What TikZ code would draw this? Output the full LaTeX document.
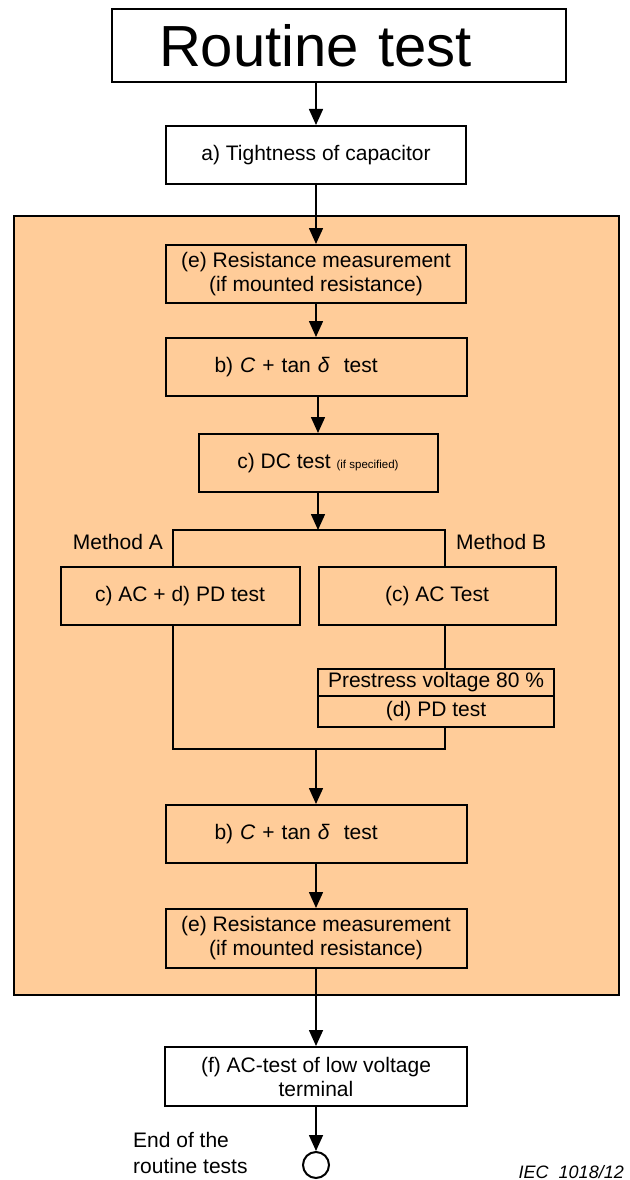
\documentclass[tikz,border=0pt]{standalone}
\usepackage{fontspec}
\setmainfont{Liberation Sans}
\usetikzlibrary{positioning,arrows.meta}
\definecolor{peach}{HTML}{FFCC99}
\tikzstyle{testbox} = [draw, line width=2pt, minimum height=58pt, inner sep=0pt, align=center]
\tikzstyle{flow} = [line width=1.6pt, -{Triangle[length=16pt,width=14pt]}]
\tikzstyle{wire} = [line width=2pt]
\tikzstyle{lbl} = [inner sep=0pt]

\begin{document}
\begin{tikzpicture}[
      x=1pt,
      y=-1pt,
      font=\fontsize{21}{24}\selectfont]

  \useasboundingbox (0,0) rectangle (629,1180);
  % shaded area of the high voltage tests
  \draw[wire, fill=peach] (14,216) rectangle (619,995);

  \node[testbox, minimum height=73pt, text width=454pt, align=left,
        font=\fontsize{58}{60}\selectfont] (title) at (339,45.5) {\hspace*{47pt}Routine test};
  \node[testbox, fill=white, minimum width=300pt] (tight) at (316,155) {a) Tightness of capacitor};
  \node[testbox, minimum width=300pt] (res1) at (316,274) {(e) Resistance measurement\\(if mounted resistance)};
  \node[testbox, text width=301pt, align=left] (ctan1) at (316,367) {\hspace*{49pt}b) \textit{C} + tan \textit{δ}\ \ test};
  \node[testbox, minimum width=239pt] (dc) at (318,463) {c) DC test {\fontsize{11.5}{12}\selectfont (if specified)}};

  \node[testbox, minimum width=239pt] (acpd) at (180,596) {c) AC + d) PD test};
  \node[testbox, minimum width=237pt] (ac) at (437,596) {(c) AC Test};
  \node[testbox, minimum width=236pt, minimum height=27pt] (prestress) at (436,682.5) {Prestress voltage 80 \%};
  \node[testbox, minimum width=236pt, minimum height=31pt] (pd) at (436,711.5) {(d) PD test};

  \node[testbox, text width=301pt, align=left] (ctan2) at (316,834) {\hspace*{49pt}b) \textit{C} + tan \textit{δ}\ \ test};
  \node[testbox, minimum width=301pt, minimum height=59pt] (res2) at (316,938.5) {(e) Resistance measurement\\(if mounted resistance)};
  \node[testbox, fill=white, minimum width=301.5pt, minimum height=59pt] (actest) at (316,1076.5) {(f) AC-test of low voltage\\terminal};
  \node[circle, draw, line width=2pt, minimum size=26pt, inner sep=0pt] (finish) at (316,1165) {};

  \coordinate (brA) at (173,530);
  \coordinate (brB) at (445,530);
  \coordinate (merge) at (316,749);

  \node[lbl, anchor=east] (methA) at (163,542) {Method A};
  \node[lbl, anchor=west] (methB) at (456,542) {Method B};
  \node[lbl, anchor=west, align=left, font=\fontsize{21}{26}\selectfont] (endtxt) at (133,1153) {End of the\\routine tests};
  \node[lbl, anchor=east, font=\fontsize{18}{20}\selectfont\itshape] (iec) at (624,1172) {IEC\ \ 1018/12};

  \draw[flow] (tight.north |- title.south) -- (tight.north);
  \draw[flow] (tight.south) -- (res1.north);
  \draw[flow] (res1.south) -- (ctan1.north);
  \draw[flow] (dc.north |- ctan1.south) -- (dc.north);
  \draw[flow] (dc.south) -- (dc.south |- brA);
  \draw[wire] (acpd.north -| brA) -- (brA) -- (brB) -- (ac.north -| brB);
  \draw[wire] (ac.south -| brB) -- (prestress.north -| brB);
  \draw[wire] (acpd.south -| brA) -- (brA |- merge) -- (brB |- merge) -- (pd.south -| brB);
  \draw[flow] (merge) -- (ctan2.north);
  \draw[flow] (ctan2.south) -- (res2.north);
  \draw[flow] (res2.south) -- (actest.north);
  \draw[flow] (actest.south) -- (finish.north);

\end{tikzpicture}
\end{document}
